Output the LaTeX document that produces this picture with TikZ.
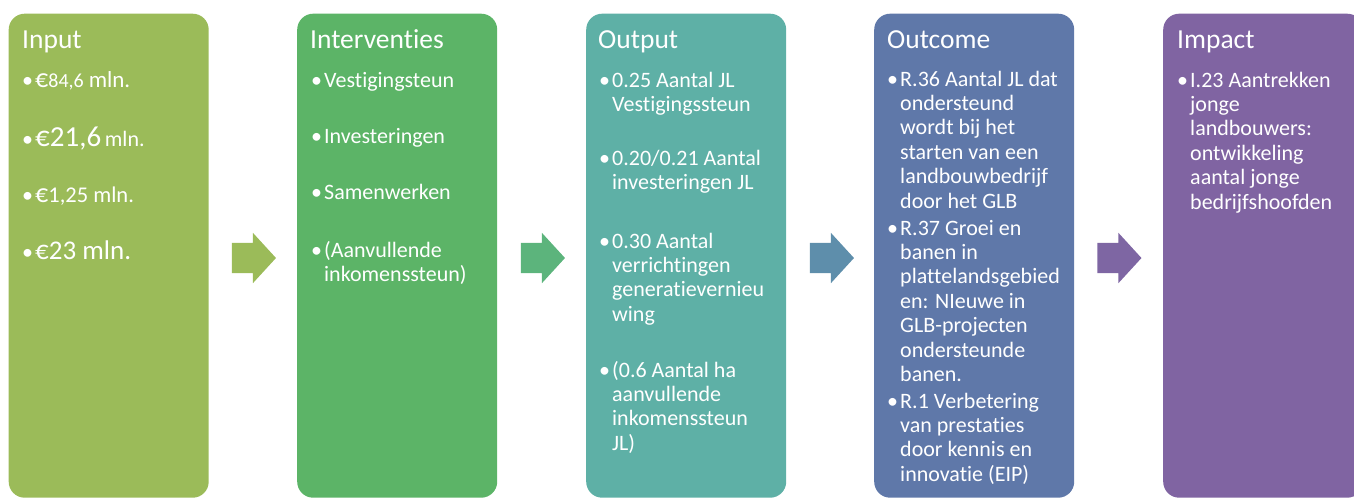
\documentclass[tikz,border=0pt]{standalone}
\usepackage{fontspec}
\setmainfont[Ligatures={NoCommon}]{Carlito}
\usetikzlibrary{shapes.arrows}
\definecolor{cA}{HTML}{9BBB59}
\definecolor{cB}{HTML}{5CB467}
\definecolor{cC}{HTML}{5EB0A6}
\definecolor{cD}{HTML}{5F78A9}
\definecolor{cE}{HTML}{8064A2}
\definecolor{aA}{HTML}{9BBB59}
\definecolor{aB}{HTML}{5CB47C}
\definecolor{aC}{HTML}{5E8EAB}
\definecolor{aD}{HTML}{7E66A3}
\newcommand{\itm}[1]{\makebox[13pt][l]{\textbullet}\parbox[t]{185pt}{\raggedright #1}}
\newcommand{\fs}[1]{\fontsize{#1}{#1}\selectfont}
\begin{document}
\begin{tikzpicture}[x=1pt,y=-1pt,
 panel/.style={draw=none, rounded corners=16pt, inner sep=0, minimum width=200pt, minimum height=484pt, anchor=north west},
 title/.style={anchor=base west, inner sep=0, text=white, font=\fontsize{27.5}{30}\selectfont},
 entry/.style={anchor=base west, inner sep=0, text=white, font=\fontsize{22}{24.4}\selectfont},
 blockarrow/.style={single arrow, draw=none, inner sep=0, text width=0pt, text height=30pt, text depth=0pt, minimum height=44pt, single arrow head extend=10pt, single arrow tip angle=95}]
\useasboundingbox (0,0) rectangle (1354,498);
\clip (0,0) rectangle (1354,498);
% panels
\node[panel, fill=cA] (b1) at (8.5,13.5) {};
\node[panel, fill=cB] (b2) at (297,13.5) {};
\node[panel, fill=cC] (b3) at (586,13.5) {};
\node[panel, fill=cD] (b4) at (874,13.5) {};
\node[panel, fill=cE] (b5) at (1163,13.5) {};
% arrows
\node[blockarrow, fill=aA] (a1) at (247,258) {};
\node[blockarrow, fill=aB] (a2) at (536,258) {};
\node[blockarrow, fill=aC] (a3) at (825,258) {};
\node[blockarrow, fill=aD] (a4) at (1112.5,258) {};
% titles
\node[title] (t1) at (22,48) {Input};
\node[title] (t2) at (310,48) {Interventies};
\node[title] (t3) at (598,48) {Output};
\node[title] (t4) at (887,48) {Outcome};
\node[title] (t5) at (1177,48) {Impact};
% Input
\node[entry] (i11) at (22,87) {\itm{{\fs{26}€}{\fs{20}84,6} {\fs{23}mln.}}};
\node[entry] (i12) at (22,146) {\itm{{\fs{29}€21,6}\,{\fs{22}mln.}}};
\node[entry] (i13) at (22,202) {\itm{{\fs{26}€}{\fs{22.5}1,25 mln.}}};
\node[entry] (i14) at (22,259) {\itm{{\fs{27}€23 mln.}}};
% Interventies
\node[entry] (i21) at (311,87) {\itm{Vestigingsteun}};
\node[entry] (i22) at (311,143) {\itm{Investeringen}};
\node[entry] (i23) at (311,199) {\itm{Samenwerken}};
\node[entry] (i24) at (311,257) {\itm{(Aanvullende\\inkomenssteun)}};
% Output
\node[entry] (i31) at (599,87) {\itm{0.25 Aantal JL\\Vestigingssteun}};
\node[entry] (i32) at (599,165) {\itm{0.20/0.21 Aantal\\investeringen JL}};
\node[entry] (i33) at (599,248) {\itm{0.30 Aantal\\verrichtingen\\generatievernieu\\wing}};
\node[entry] (i34) at (599,377) {\itm{(0.6 Aantal ha\\aanvullende\\inkomenssteun\\JL)}};
% Outcome
\node[entry] (i41) at (887,86) {\itm{R.36 Aantal JL dat\\ondersteund\\wordt bij het\\starten van een\\landbouwbedrijf\\door het GLB}};
\node[entry] (i42) at (887,235) {\itm{R.37 Groei en\\banen in\\plattelandsgebied\\en: NIeuwe in\\GLB-projecten\\ondersteunde\\banen.}};
\node[entry] (i43) at (887,408) {\itm{R.1 Verbetering\\van prestaties\\door kennis en\\innovatie (EIP)}};
% Impact
\node[entry] (i51) at (1177,87) {\itm{I.23 Aantrekken\\jonge\\landbouwers:\\ontwikkeling\\aantal jonge\\bedrijfshoofden}};
\end{tikzpicture}
\end{document}
